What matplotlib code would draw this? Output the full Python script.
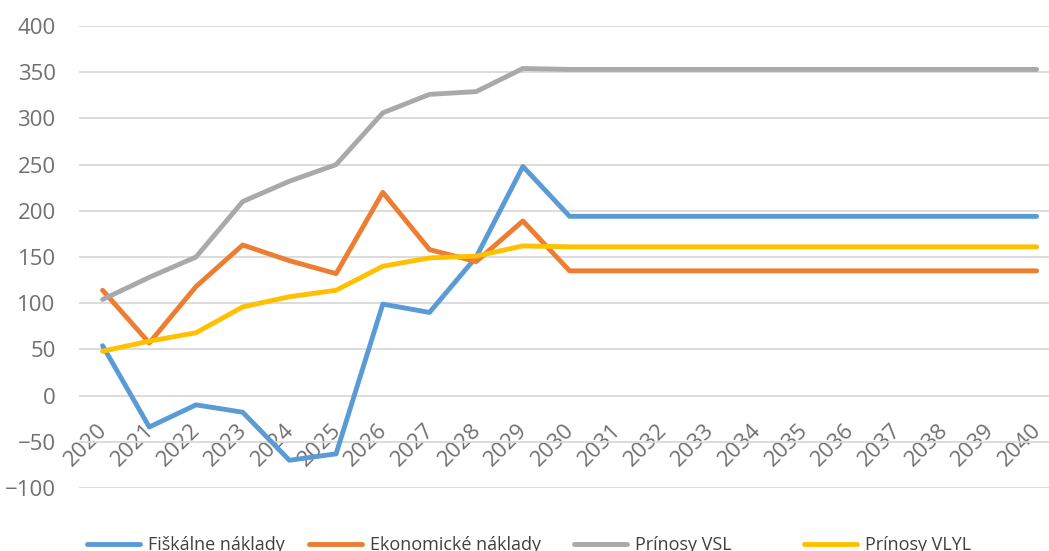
import matplotlib
matplotlib.use("Agg")
import matplotlib.pyplot as plt
from matplotlib.lines import Line2D
from matplotlib.transforms import ScaledTranslation

years = list(range(2020, 2041))
year_labels = [str(y) for y in years]

fiskalne = [54, -34, -10, -18, -70, -63, 99, 90, 150, 248, 194,
            194, 194, 194, 194, 194, 194, 194, 194, 194, 194]
ekonomicke = [114, 57, 118, 163, 146, 132, 220, 158, 145, 189, 135,
              135, 135, 135, 135, 135, 135, 135, 135, 135, 135]
vsl = [104, 128, 150, 210, 232, 250, 306, 326, 329, 354, 353,
       353, 353, 353, 353, 353, 353, 353, 353, 353, 353]
vlyl = [48, 59, 68, 96, 107, 114, 140, 149, 151, 162, 161,
        161, 161, 161, 161, 161, 161, 161, 161, 161, 161]

series_names = ["Fiškálne náklady", "Ekonomické náklady", "Prínosy VSL", "Prínosy VLYL"]
series_vals = [fiskalne, ekonomicke, vsl, vlyl]
colors = ["#5B9BD5", "#ED7D31", "#A9A9AB", "#FFC000"]

yticks = [-100, -50, 0, 50, 100, 150, 200, 250, 300, 350, 400]

plt.rcParams['font.family'] = ['Open Sans', 'DejaVu Sans']
txt_color = "#707070"
fs = 16
leg_fs = 13

W, H = 1049, 551
fig = plt.figure(figsize=(W / 100, H / 100), dpi=100)
step = 46.7
left_px = 102.6 - step / 2
ax = fig.add_axes([left_px / W, 1 - 488 / H, 21 * step / W, (488 - 26) / H])

x = list(range(len(years)))
for name, vals, c in zip(series_names, series_vals, colors):
    ax.plot(x, vals, color=c, lw=3.5, solid_capstyle='round', solid_joinstyle='round', label=name)

ax.set_ylim(-100, 400)
ax.set_xlim(-0.5, 20.5)
ax.set_yticks(yticks)
ax.grid(axis='y', color='#d9d9d9', lw=1.3)
ax.set_axisbelow(True)
for s in ['top', 'right', 'left']:
    ax.spines[s].set_visible(False)
ax.spines['bottom'].set_position(('data', 0))
ax.spines['bottom'].set_visible(False)
ax.set_xticks(x)
ax.set_xticklabels(year_labels, rotation=45, ha='right', va='top', rotation_mode='anchor')
ax.tick_params(axis='x', length=0, pad=0, labelsize=fs, labelcolor=txt_color)
ax.tick_params(axis='y', length=0, pad=17, labelsize=fs, labelcolor=txt_color)
off = ScaledTranslation(-6 / 100, -24 / 100, fig.dpi_scale_trans)
for lab in ax.get_xticklabels():
    lab.set_transform(lab.get_transform() + off)

# legend entries placed individually
leg_x = [87, 309, 574, 804]
for name, c, lx in zip(series_names, colors, leg_x):
    h = Line2D([], [], color=c, lw=3.5, solid_capstyle='round')
    fig.legend([h], [name], loc='center left', bbox_to_anchor=(lx / W, 1 - 545 / H),
               frameon=False, fontsize=leg_fs, handlelength=2.95, handletextpad=0.45,
               borderpad=0, borderaxespad=0, labelcolor='#404040')

fig.savefig("out.png", dpi=100)
